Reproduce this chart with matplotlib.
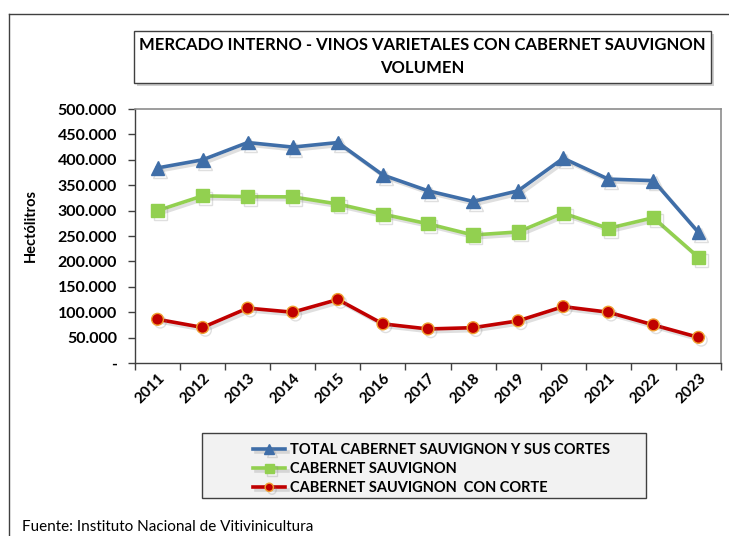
import matplotlib
matplotlib.use("Agg")
import matplotlib.pyplot as plt
import matplotlib.patheffects as pe
from matplotlib.patches import Rectangle
from matplotlib.lines import Line2D
import numpy as np

years = ["2011", "2012", "2013", "2014", "2015", "2016", "2017", "2018", "2019", "2020", "2021", "2022", "2023"]
total = [384000, 400000, 434000, 425000, 434000, 370000, 339000, 318000, 339000, 403000, 362000, 359000, 257000]
cabernet = [300000, 329000, 327500, 327000, 313000, 293000, 274000, 252000, 258000, 295000, 265000, 286000, 208000]
con_corte = [86000, 70000, 108000, 100000, 125000, 77000, 67000, 69500, 83000, 111000, 100000, 75000, 50500]
series_names = ["TOTAL CABERNET SAUVIGNON Y SUS CORTES", "CABERNET SAUVIGNON", "CABERNET SAUVIGNON  CON CORTE"]
yticks = [0, 50000, 100000, 150000, 200000, 250000, 300000, 350000, 400000, 450000, 500000]

FONT = "Lato"
W, H = 729, 536
fig = plt.figure(figsize=(W / 100, H / 100), dpi=100)

def fx(px):
    return px / W

def fy(py):
    return 1 - py / H

# outer border (top and left)
fig.add_artist(Line2D([fx(9), 1.0], [fy(14), fy(14)], color="#404040", lw=1.0))
fig.add_artist(Line2D([fx(9), fx(9)], [fy(14), 0.0], color="#404040", lw=1.0))

ax = fig.add_axes([fx(135), fy(363), fx(721) - fx(135), fy(109) - fy(363)])
x = np.arange(len(years))
shadow = [pe.SimpleLineShadow(offset=(2, -2), alpha=0.25, shadow_color="gray"), pe.Normal()]

ax.plot(x, total, color="#3F6EA8", lw=2.6, marker="^", markersize=10,
        markerfacecolor="#3F6EA8", markeredgecolor="#3F6EA8", path_effects=shadow, label=series_names[0])
ax.plot(x, cabernet, color="#92D050", lw=2.6, marker="s", markersize=9.5,
        markerfacecolor="#92D050", markeredgecolor="#92D050", path_effects=shadow, label=series_names[1])
ax.plot(x, con_corte, color="#C00000", lw=2.6, marker="o", markersize=8.5,
        markerfacecolor="#C00000", markeredgecolor="#F0A030", markeredgewidth=1.0,
        path_effects=shadow, label=series_names[2])

ax.set_xlim(-0.5, len(years) - 0.5)
ax.set_ylim(0, 500000)
ax.set_yticks(yticks)
ax.set_yticklabels(["-" if v == 0 else f"{v:,}".replace(",", ".") for v in yticks],
                   fontfamily=FONT, fontweight="bold", fontsize=11.5)
ax.set_xticks(np.arange(-0.5, len(years), 1.0))
ax.set_xticklabels([])
ax.set_xticks(x, minor=True)
ax.set_xticklabels(years, minor=True, rotation=45, ha="right", va="top",
                   rotation_mode="anchor", fontfamily=FONT, fontweight="bold", fontsize=11)
ax.tick_params(axis="x", which="minor", length=0, pad=6)
ax.tick_params(axis="x", which="major", length=5, color="#404040", width=1)
ax.tick_params(axis="y", length=5, color="#404040", width=1, pad=8)

for side in ["top", "right"]:
    ax.spines[side].set_color("#8c8c8c")
    ax.spines[side].set_linewidth(1.2)
for side in ["left", "bottom"]:
    ax.spines[side].set_color("#404040")
    ax.spines[side].set_linewidth(1.0)

fig.text(fx(31), fy(225), "Hectólitros", rotation=90, ha="center", va="center",
         fontfamily=FONT, fontweight="bold", fontsize=10.5)

# title box
fig.add_artist(Rectangle((fx(137), fy(86)), fx(711) - fx(134), fy(31) - fy(83),
                         transform=fig.transFigure, facecolor="#b0b0b0", edgecolor="none", alpha=0.6))
fig.add_artist(Rectangle((fx(134), fy(83)), fx(711) - fx(134), fy(31) - fy(83),
                         transform=fig.transFigure, facecolor="white", edgecolor="#404040", lw=1.0))
fig.text(fx(422), fy(45), "MERCADO INTERNO - VINOS VARIETALES CON CABERNET SAUVIGNON",
         ha="center", va="center", fontfamily=FONT, fontweight="bold", fontsize=12)
fig.text(fx(422), fy(68), "VOLUMEN", ha="center", va="center",
         fontfamily=FONT, fontweight="bold", fontsize=12)

# legend box
fig.add_artist(Rectangle((fx(202), fy(498)), fx(646) - fx(202), fy(433) - fy(498),
                         transform=fig.transFigure, facecolor="#f2f2f2", edgecolor="#404040", lw=1.0))
handles, labels = ax.get_legend_handles_labels()
leg = fig.legend(handles, labels, loc="upper left", bbox_to_anchor=(fx(243), fy(433)),
                 frameon=False, prop={"family": FONT, "weight": "bold", "size": 10.5},
                 handlelength=2.2, handletextpad=0.3, labelspacing=0.35, borderpad=0.2,
                 markerscale=0.7)

fig.text(fx(22), fy(527), "Fuente: Instituto Nacional de Vitivinicultura", ha="left", va="center",
         fontfamily=FONT, fontsize=11)

fig.savefig("out.png", dpi=100)
